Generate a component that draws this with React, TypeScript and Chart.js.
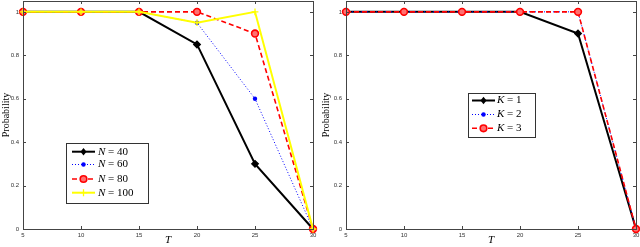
import React, { useEffect, useRef } from "react";
import { Chart, registerables } from "chart.js";

Chart.register(...registerables);

const T = [5, 10, 15, 20, 25, 30];
const xTicks = [5, 10, 15, 20, 25, 30];
const yTicks = [0, 0.2, 0.4, 0.6, 0.8, 1];

const N40 = [1, 1, 1, 0.85, 0.3, 0];
const N60 = [1, 1, 1, 0.95, 0.6, 0];
const N80 = [1, 1, 1, 1, 0.9, 0];
const N100 = [1, 1, 1, 0.95, 1, 0];

const K1 = [1, 1, 1, 1, 0.9, 0];
const K2 = [1, 1, 1, 1, 1, 0];
const K3 = [1, 1, 1, 1, 1, 0];

const leftLabels = ["40", "60", "80", "100"];
const rightLabels = ["1", "2", "3"];

type Style = {
  color: string;
  width: number;
  dash: number[];
  marker: "diamond" | "dot" | "circle" | "plus";
  fill: string;
};

const styles: Style[] = [
  { color: "#000000", width: 2, dash: [], marker: "diamond", fill: "#000000" },
  { color: "#0000ff", width: 1, dash: [1, 2], marker: "dot", fill: "#0000ff" },
  { color: "#ff0000", width: 1.6, dash: [5, 3], marker: "circle", fill: "#ff7070" },
  { color: "#ffff00", width: 2, dash: [], marker: "plus", fill: "#ffff00" },
];

function drawMarker(ctx: CanvasRenderingContext2D, s: Style, x: number, y: number) {
  ctx.save();
  ctx.setLineDash([]);
  ctx.strokeStyle = s.color;
  ctx.fillStyle = s.fill;
  if (s.marker === "diamond") {
    ctx.beginPath();
    ctx.moveTo(x, y - 3.8);
    ctx.lineTo(x + 3, y);
    ctx.lineTo(x, y + 3.8);
    ctx.lineTo(x - 3, y);
    ctx.closePath();
    ctx.fill();
  } else if (s.marker === "dot") {
    ctx.beginPath();
    ctx.arc(x, y, 2.2, 0, Math.PI * 2);
    ctx.fill();
  } else if (s.marker === "circle") {
    ctx.lineWidth = 1.6;
    ctx.beginPath();
    ctx.arc(x, y, 3.3, 0, Math.PI * 2);
    ctx.fill();
    ctx.stroke();
  } else {
    ctx.lineWidth = 1.3;
    ctx.beginPath();
    ctx.moveTo(x - 3.5, y);
    ctx.lineTo(x + 3.5, y);
    ctx.moveTo(x, y - 3.5);
    ctx.lineTo(x, y + 3.5);
    ctx.stroke();
  }
  ctx.restore();
}

type LegendCfg = {
  box: [number, number, number, number];
  rows: number[];
  lineX: [number, number];
  textX: number;
  symbol: string;
  labels: string[];
  styleIdx: number[];
};

const framePlugin = {
  id: "frame",
  afterDraw(chart: any, _args: any, opts: any) {
    const ctx: CanvasRenderingContext2D = chart.ctx;
    const a = chart.chartArea;
    const xs = chart.scales.x;
    const ys = chart.scales.y;
    ctx.save();
    ctx.strokeStyle = "#444";
    ctx.lineWidth = 1;
    ctx.setLineDash([]);
    ctx.strokeRect(Math.round(a.left) + 0.5, Math.round(a.top) + 0.5, Math.round(a.right - a.left), Math.round(a.bottom - a.top));
    ctx.beginPath();
    const tl = 3;
    for (const t of xTicks) {
      const px = Math.round(xs.getPixelForValue(t)) + 0.5;
      ctx.moveTo(px, a.bottom);
      ctx.lineTo(px, a.bottom - tl);
      ctx.moveTo(px, a.top);
      ctx.lineTo(px, a.top + tl);
    }
    for (const t of yTicks) {
      const py = Math.round(ys.getPixelForValue(t)) + 0.5;
      ctx.moveTo(a.left, py);
      ctx.lineTo(a.left + tl, py);
      ctx.moveTo(a.right, py);
      ctx.lineTo(a.right - tl, py);
    }
    ctx.stroke();

    const lg: LegendCfg = opts.legend;
    if (lg) {
      const [bx, by, bw, bh] = lg.box;
      ctx.fillStyle = "#fff";
      ctx.fillRect(bx, by, bw, bh);
      ctx.strokeStyle = "#333";
      ctx.strokeRect(bx + 0.5, by + 0.5, bw, bh);
      lg.labels.forEach((lab, i) => {
        const s = styles[lg.styleIdx[i]];
        const y = lg.rows[i];
        ctx.save();
        ctx.strokeStyle = s.color;
        ctx.lineWidth = s.width;
        ctx.setLineDash(s.dash);
        ctx.beginPath();
        ctx.moveTo(lg.lineX[0], y);
        ctx.lineTo(lg.lineX[1], y);
        ctx.stroke();
        ctx.restore();
        drawMarker(ctx, s, (lg.lineX[0] + lg.lineX[1]) / 2, y);
        ctx.fillStyle = "#000";
        ctx.textBaseline = "middle";
        ctx.textAlign = "left";
        ctx.font = "italic 11px 'Liberation Serif'";
        ctx.fillText(lg.symbol, lg.textX, y);
        const w = ctx.measureText(lg.symbol).width;
        ctx.font = "11px 'Liberation Serif'";
        ctx.fillText(" = " + lab, lg.textX + w, y);
      });
    }
    ctx.restore();
  },
};

function makeDataset(values: number[], s: Style, order: number) {
  const pointStyle =
    s.marker === "diamond" ? "rectRot" : s.marker === "plus" ? "cross" : "circle";
  const radius = s.marker === "dot" ? 2.2 : s.marker === "diamond" ? 3.3 : 3.4;
  return {
    data: T.map((t, i) => ({ x: t, y: values[i] })),
    borderColor: s.color,
    borderWidth: s.width,
    borderDash: s.dash,
    pointStyle,
    pointRadius: radius,
    pointBorderColor: s.color,
    pointBackgroundColor: s.fill,
    pointBorderWidth: s.marker === "dot" ? 0 : s.marker === "circle" ? 1.6 : 1.3,
    tension: 0,
    clip: false,
    order,
  };
}

function PlotCanvas(props: { datasets: any[]; yWidth: number; padRight: number; legend: LegendCfg }) {
  const ref = useRef<HTMLCanvasElement | null>(null);
  useEffect(() => {
    if (!ref.current) return;
    const chart = new Chart(ref.current, {
      type: "line",
      data: { datasets: props.datasets },
      plugins: [framePlugin],
      options: {
        animation: false,
        responsive: false,
        layout: { autoPadding: false, padding: { top: 1, right: props.padRight, left: 0, bottom: 0 } },
        plugins: {
          legend: { display: false },
          tooltip: { enabled: false },
          frame: { legend: props.legend },
        } as any,
        scales: {
          x: {
            type: "linear",
            min: 5,
            max: 30,
            grid: { display: false, drawTicks: false },
            border: { display: false },
            afterBuildTicks: (s: any) => {
              s.ticks = xTicks.map((v) => ({ value: v }));
            },
            afterFit: (s: any) => {
              s.height = 18;
              s.paddingLeft = 0;
              s.paddingRight = 0;
              s.paddingTop = 0;
              s.paddingBottom = 0;
            },
            ticks: {
              autoSkip: false,
              maxRotation: 0,
              padding: 3,
              color: "#333",
              font: { family: "'Liberation Sans'", size: 6 },
              callback: (v: any) => String(v),
            },
            title: {
              display: true,
              text: "T",
              color: "#000",
              padding: { top: 0, bottom: 0 },
              font: { family: "'Liberation Serif'", size: 11, style: "italic" },
            },
          },
          y: {
            type: "linear",
            min: 0,
            max: 1.05,
            grid: { display: false, drawTicks: false },
            border: { display: false },
            afterBuildTicks: (s: any) => {
              s.ticks = yTicks.map((v) => ({ value: v }));
            },
            afterFit: (s: any) => {
              s.width = props.yWidth;
              s.paddingLeft = 0;
              s.paddingRight = 0;
              s.paddingTop = 0;
              s.paddingBottom = 0;
            },
            ticks: {
              autoSkip: false,
              padding: 4,
              color: "#333",
              font: { family: "'Liberation Sans'", size: 6 },
              callback: (v: any) => String(Math.round(v * 10) / 10),
            },
            title: {
              display: true,
              text: "Probability",
              color: "#000",
              padding: { top: 0, bottom: 0 },
              font: { family: "'Liberation Serif'", size: 10 },
            },
          },
        },
      },
    });
    return () => chart.destroy();
  }, []);
  return <canvas ref={ref} width={320} height={247} style={{ display: "block", width: 320, height: 247 }} />;
}

export default function App() {
  const leftSets = [
    makeDataset(N40, styles[0], 4),
    makeDataset(N60, styles[1], 3),
    makeDataset(N80, styles[2], 2),
    makeDataset(N100, styles[3], 1),
  ];
  const rightSets = [
    makeDataset(K1, styles[0], 3),
    makeDataset(K2, styles[1], 2),
    makeDataset(K3, styles[2], 1),
  ];
  const leftLegend: LegendCfg = {
    box: [66, 143, 82, 60],
    rows: [151.7, 164.5, 179, 192.7],
    lineX: [72, 95],
    textX: 98,
    symbol: "N",
    labels: leftLabels,
    styleIdx: [0, 1, 2, 3],
  };
  const rightLegend: LegendCfg = {
    box: [148, 93, 67, 44],
    rows: [100.5, 114.5, 128.3],
    lineX: [152, 175],
    textX: 177,
    symbol: "K",
    labels: rightLabels,
    styleIdx: [0, 1, 2],
  };
  return (
    <div style={{ position: "fixed", left: 0, top: 0, width: 640, height: 247, background: "#fff", display: "flex" }}>
      <PlotCanvas datasets={leftSets} yWidth={23} padRight={7} legend={leftLegend} />
      <PlotCanvas datasets={rightSets} yWidth={26} padRight={4} legend={rightLegend} />
    </div>
  );
}
